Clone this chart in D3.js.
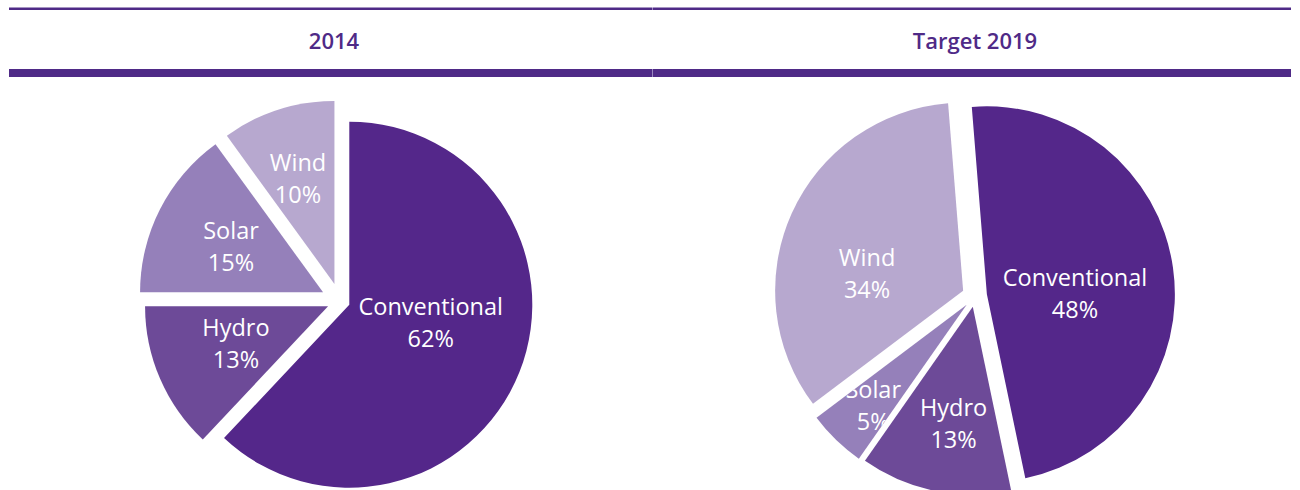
<!DOCTYPE html>
<html>
<head>
<meta charset="utf-8">
<script src="https://cdn.jsdelivr.net/npm/d3@7"></script>
<style>
  body { margin: 0; background: #fff; }
  svg { display: block; font-family: "Open Sans", "Noto Sans", sans-serif; }
</style>
</head>
<body>
<script>
// data
const titles = ["2014", "Target 2019"];
const sources = ["Conventional", "Hydro", "Solar", "Wind"];
const share2014 = [62, 13, 15, 10];
const share2019 = [48, 13, 5, 34];

const colors = ["#54278a", "#6d4a98", "#9580ba", "#b7a8cf"];
const ink = "#4f2a87";

// layout (per panel): centre, radius, first slice angle, explosion and label placement
const panels = [
  { title: titles[0], values: share2014, x0: 9, x1: 652, cx: 340, cy: 301, r: 183, start: 0, tx: 334,
    explode: [10, 13, 19, 18],
    label: [[0.51, -8], [0.614, 1.2], [0.665, -0.6], [0.705, -1]] },
  { title: titles[1], values: share2019, x0: 653, x1: 1291, cx: 975, cy: 296, r: 188, start: -4.6, tx: 975,
    explode: [12, 11, 12, 13],
    label: [[0.532, 6.5], [0.69, -2.1], [0.797, -1.2], [0.587, -12.2]] }
];

const rad = Math.PI / 180;

const svg = d3.select("body").append("svg")
  .attr("width", 1300)
  .attr("height", 490);

// HEADER
//
panels.forEach(p => {
  svg.append("rect")
    .attr("x", p.x0).attr("y", 7.5)
    .attr("width", p.x1 - p.x0).attr("height", 2.5)
    .attr("fill", ink);

  svg.append("rect")
    .attr("x", p.x0).attr("y", 69)
    .attr("width", p.x1 - p.x0).attr("height", 8)
    .attr("fill", ink);

  svg.append("text")
    .attr("x", p.tx)
    .attr("y", 49)
    .attr("text-anchor", "middle")
    .attr("font-size", 22)
    .attr("font-weight", 600)
    .attr("fill", ink)
    .text(p.title);
});

svg.append("rect")
  .attr("x", 652).attr("y", 7.5).attr("width", 1).attr("height", 2.5)
  .attr("fill", "#9a86bf");
svg.append("rect")
  .attr("x", 652).attr("y", 69).attr("width", 1).attr("height", 8)
  .attr("fill", "#9a86bf");

// PIES
//
panels.forEach((p, pi) => {
  const start = p.start * rad;

  const pie = d3.pie()
    .sort(null)
    .value(d => d)
    .startAngle(start)
    .endAngle(start + 2 * Math.PI);

  const arc = d3.arc()
    .innerRadius(0)
    .outerRadius(p.r);

  const arcs = pie(p.values);

  const g = svg.append("g")
    .attr("transform", `translate(${p.cx},${p.cy})`);

  const slices = g.selectAll("g.slice")
    .data(arcs).enter()
    .append("g")
    .attr("class", "slice")
    .attr("transform", (d, i) => {
      const mid = (d.startAngle + d.endAngle) / 2;
      const e = p.explode[i];
      return `translate(${Math.sin(mid) * e},${-Math.cos(mid) * e})`;
    });

  slices.append("path")
    .attr("d", arc)
    .attr("fill", (d, i) => colors[i]);

  slices.append("clipPath")
    .attr("id", (d, i) => `clip-${pi}-${i}`)
    .append("path")
    .attr("d", arc);

  // labels sit on top of every slice but are clipped to their own one
  const labels = slices.append("g")
    .attr("clip-path", (d, i) => `url(#clip-${pi}-${i})`)
    .append("text")
    .attr("text-anchor", "middle")
    .attr("font-size", 23.5)
    .attr("fill", "#fff")
    .attr("transform", (d, i) => {
      const mid = (d.startAngle + d.endAngle) / 2;
      const e = p.explode[i];
      const a = mid + p.label[i][1] * rad;
      const l = p.label[i][0] * p.r;
      const x = Math.sin(a) * l - Math.sin(mid) * e;
      const y = -Math.cos(a) * l + Math.cos(mid) * e;
      return `translate(${x},${y})`;
    });

  labels.append("tspan")
    .attr("x", 0)
    .attr("y", -16)
    .attr("dy", "0.36em")
    .text((d, i) => sources[i]);

  labels.append("tspan")
    .attr("x", 0)
    .attr("y", 16)
    .attr("dy", "0.36em")
    .text(d => `${d.data}%`);
});
</script>
</body>
</html>
